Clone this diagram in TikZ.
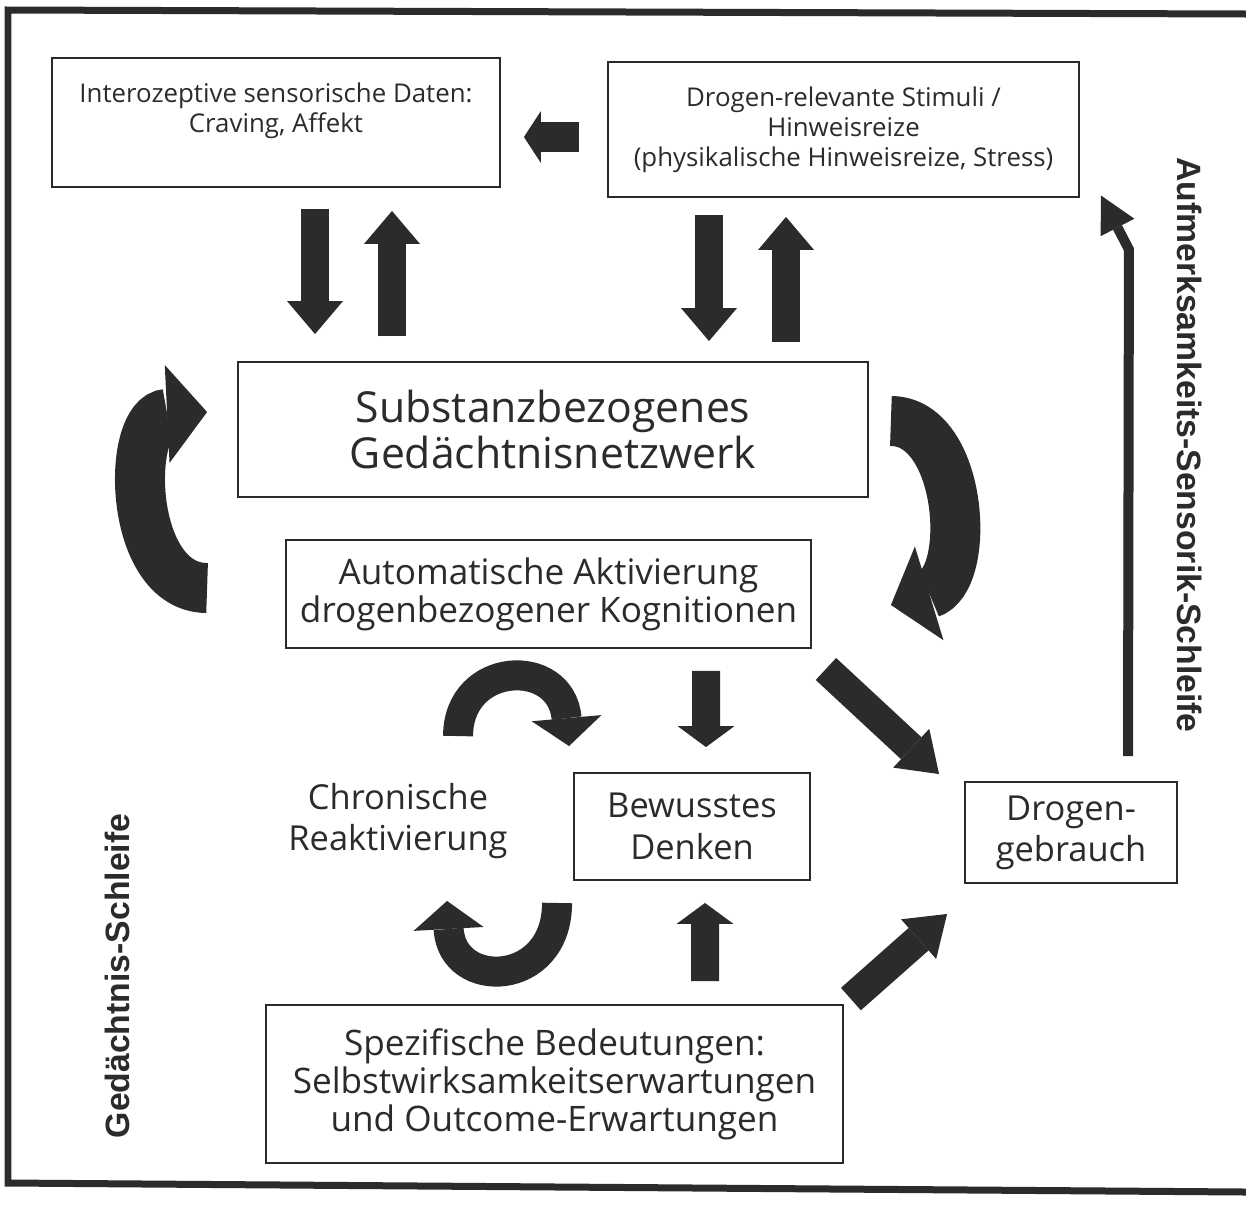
\documentclass[tikz,border=0pt]{standalone}
\usepackage{fontspec}
\setmainfont{Open Sans}
\newfontfamily\loopfont{Liberation Sans}
\usetikzlibrary{arrows.meta,calc}
\definecolor{ink}{HTML}{2B2B2E}
\begin{document}
\begin{tikzpicture}[x=0.02cm,y=-0.02cm,
  box/.style={draw=ink,line width=1.1pt,align=center,inner sep=0pt,text=ink},
  plain/.style={align=center,inner sep=0pt,text=ink},
  small/.style={font=\fontsize{14.7}{17}\selectfont},
  medium/.style={font=\fontsize{20}{21.6}\selectfont},
  wide/.style={font=\fontsize{19.6}{23.5}\selectfont},
  large/.style={font=\fontsize{24.3}{26.6}\selectfont},
  looplabel/.style={text=ink,inner sep=0pt,font=\loopfont\bfseries\fontsize{19.2}{22}\selectfont},
  blockarrow/.style={ink,line width=0.56cm,-{Triangle[width=1.12cm,length=0.66cm,line width=0pt]}},
  shortarrow/.style={ink,line width=0.56cm,-{Triangle[width=1.14cm,length=0.42cm,line width=0pt]}},
  slantarrow/.style={ink,line width=0.6cm,-{Triangle[width=1.06cm,length=0.76cm,line width=0pt]}},
  bigcurve/.style={ink,line width=1cm,-{Triangle[width=1.96cm,length=0.8cm,line width=0pt]}},
  smallcurve/.style={ink,line width=0.6cm,-{Triangle[width=1.4cm,length=0.56cm,line width=0pt]}},
  thinarrow/.style={ink,line width=0.2cm,line join=miter,-{Triangle[width=0.76cm,length=0.72cm,line width=0pt]}}]
\useasboundingbox (0,0) rectangle (1246,1204);
\fill[white] (0,0) rectangle (1246,1204);
% frame
\draw[ink,line width=0.14cm] (1246,14) -- (8,10) -- (8,1183) -- (1246,1192);
% boxes
\node[box,small,minimum width=8.96cm,minimum height=2.58cm] (interoz) at (276,122.5)
  {Interozeptive sensorische Daten:\\Craving, Affekt\\ \mbox{}};
\node[box,small,minimum width=9.42cm,minimum height=2.7cm] (stimuli) at (843.5,129.5)
  {Drogen-relevante Stimuli /\\Hinweisreize\\(physikalische Hinweisreize, Stress)};
\node[box,large,minimum width=12.6cm,minimum height=2.7cm] (substanz) at (553,429.5)
  {Substanzbezogenes\\Gedächtnisnetzwerk};
\node[box,medium,minimum width=10.5cm,minimum height=2.16cm] (automat) at (548.5,594)
  {Automatische Aktivierung\\drogenbezogener Kognitionen};
\node[plain,wide] (chron) at (398,821) {Chronische\\Reaktivierung};
\node[box,wide,minimum width=4.72cm,minimum height=2.14cm] (bewusst) at (692,826.5)
  {Bewusstes\\Denken};
\node[box,wide,minimum width=4.24cm,minimum height=2.02cm] (gebrauch) at (1071,832.5)
  {Drogen-\\gebrauch};
\node[box,medium,minimum width=11.54cm,minimum height=3.16cm] (spezif) at (554.5,1084)
  {Spezifische Bedeutungen:\\Selbstwirksamkeitserwartungen\\und Outcome-Erwartungen};
% loop labels
\node[looplabel,rotate=90] (gedloop) at (117,976) {Gedächtnis-Schleife};
\node[looplabel,rotate=-90] (aufmloop) at (1190,445) {Aufmerksamkeits-Sensorik-Schleife};
% straight arrows
\draw[ink,line width=0.6cm,-{Triangle[width=1.04cm,length=0.34cm,line width=0pt]}]
  ($(stimuli.west)+(-28,7.5)$) -- ($(interoz.east)+(23,14.5)$);
\draw[blockarrow] ($(interoz.south)+(39,21)$) -- ($(substanz.north)+(-238,-27)$);
\draw[blockarrow] ($(substanz.north)+(-161,-25)$) -- ($(interoz.south)+(116,23)$);
\draw[blockarrow] ($(stimuli.south)+(-134.5,17)$) -- ($(substanz.north)+(156,-20)$);
\draw[blockarrow] ($(substanz.north)+(233,-19)$) -- ($(stimuli.south)+(-57.5,19)$);
\draw[shortarrow] ($(automat.south)+(157.5,22)$) -- ($(bewusst.north)+(14,-25)$);
\draw[shortarrow] ($(spezif.north)+(150.5,-23)$) -- ($(bewusst.south)+(13,22)$);
\draw[slantarrow] ($(automat.south east)+(14,20)$) -- ($(gebrauch.north west)+(-25,-7)$);
\draw[slantarrow] ($(spezif.north east)+(7,-5)$) -- ($(gebrauch.south west)+(-17,30)$);
% curved arrows
\draw[bigcurve] ($(automat.west)+(-78,-6)$) .. controls +(-80,0) and +(-82,4) .. ($(substanz.west)+(-30,-17.5)$);
\draw[bigcurve] ($(substanz.east)+(22,-8.5)$) .. controls +(72,0) and +(82,-25) .. ($(automat.east)+(79,11)$);
\draw[smallcurve] ($(bewusst.north west)+(-115,-36)$) .. controls +(0,-75) and +(-8,-90) .. ($(bewusst.north west)+(-4,-26)$);
\draw[smallcurve] ($(bewusst.south west)+(-16,22)$) .. controls +(0,85) and +(5,90) .. ($(bewusst.south west)+(-126,20)$);
% attention loop
\draw[thinarrow] ($(gebrauch.north)+(57,-25)$) -- ($(stimuli.east)+(49,120)$) -- ($(stimuli.east)+(21,66)$);
\end{tikzpicture}
\end{document}
